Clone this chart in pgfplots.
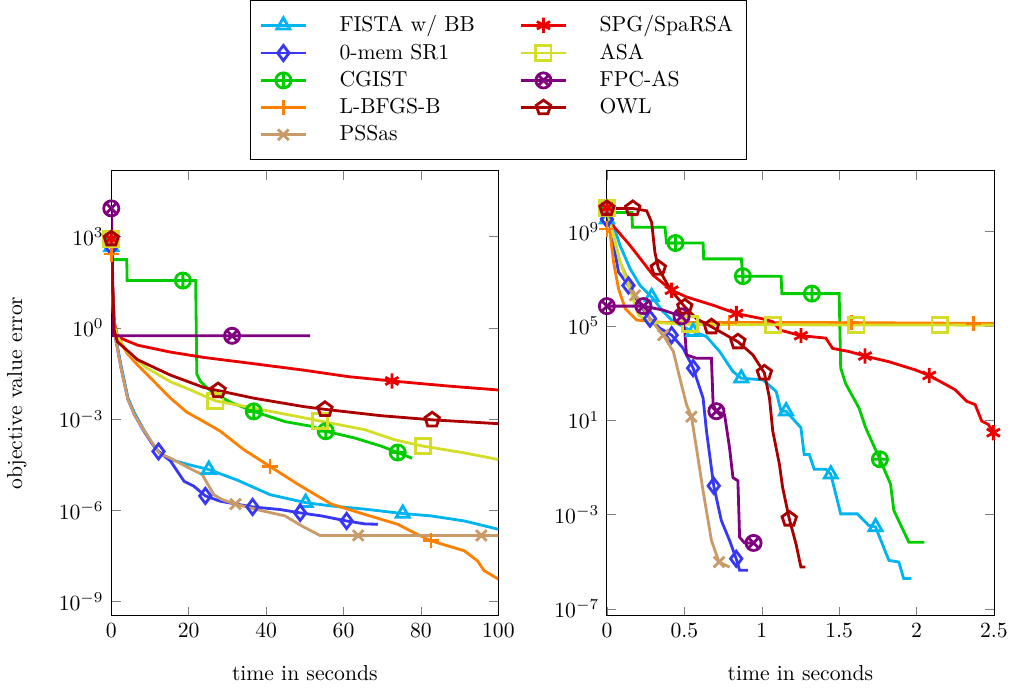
\documentclass[border=0pt]{standalone}
\usepackage{pgfplots}
\pgfplotsset{compat=1.18}

\definecolor{cfista}{RGB}{0,180,240}
\definecolor{csr}{RGB}{55,55,245}
\definecolor{ccg}{RGB}{0,204,0}
\definecolor{clb}{RGB}{255,128,0}
\definecolor{cpss}{RGB}{200,155,105}
\definecolor{cspg}{RGB}{235,0,0}
\definecolor{casa}{RGB}{212,222,40}
\definecolor{cfpc}{RGB}{128,0,128}
\definecolor{cowl}{RGB}{170,0,0}

\pgfplotsset{
  legend image code/.code={\draw[mark repeat=2,mark phase=2,#1] plot coordinates {(0cm,0cm) (0.37cm,0cm) (0.74cm,0cm)};},
  every axis plot/.append style={line width=1.3pt, mark size=3.5pt},
}

\begin{document}
\begin{tikzpicture}
\begin{axis}[name=left,
  scale only axis, width=179pt, height=206pt,
  ymode=log, yminorticks=false,
  xlabel={time in seconds}, xlabel style={at={(ticklabel cs:0.5,6pt)}},
  xmin=0, xmax=100, xtick={0,20,40,60,80,100},
  ymin=3.4e-10, ymax=1.5e5, ytick={1e-9,1e-6,1e-3,1,1e3},
  ylabel={objective value error}, ylabel style={at={(ticklabel cs:0.5,8pt)}},
  legend columns=2,
  legend cell align=left,
  legend style={at={(1,1)}, anchor=south, yshift=5pt, inner ysep=5pt, inner xsep=4pt,
    /tikz/every odd column/.append style={column sep=0.45cm},
    /tikz/every even column/.append style={column sep=0.65cm}},
]
% FISTA w/ BB
\addplot[color=cfista, mark=triangle, forget plot, mark indices={1,13,16,19}] coordinates {
(0,460) (0.3,20) (0.6,2) (1.2,0.45) (2.5,0.06) (4.3,5e-3) (6,1.6e-3) (8.2,5e-4)
(11,1.3e-4) (12.5,8e-5) (15.3,4.7e-5) (20,3.2e-5) (25.2,2.2e-5) (32.5,1.0e-5)
(41,3.3e-6) (50.2,1.8e-6) (56.9,1.4e-6) (65.5,1.1e-6) (75.3,7.9e-7) (82.6,6.6e-7)
(91.2,4.5e-7) (100,2.4e-7)};
% 0-mem SR1
\addplot[color=csr, mark=diamond, forget plot, mark indices={1,10,14,16,18,20}] coordinates {
(0,460) (0.3,20) (0.6,2) (1.2,0.4) (2.5,0.05) (4.3,4.5e-3) (6,1.4e-3) (8.2,4.5e-4)
(10.5,1.6e-4) (12.2,8.7e-5) (15.3,4.2e-5) (18.8,9.1e-6) (21.3,6.3e-6) (24.3,3.0e-6)
(28.2,2.0e-6) (36.5,1.3e-6) (43.6,1.07e-6) (48.8,8.3e-7) (54.3,6.6e-7) (60.8,4.5e-7)
(65.5,3.6e-7) (68.9,3.5e-7)};
% CGIST
\addplot[color=ccg, mark=oplus, forget plot, mark indices={1,5,12,15,18}] coordinates {
(0,850) (0.2,176) (4.0,176) (4.1,36) (18.5,36) (21.8,36) (22.1,0.03) (23.1,0.017)
(25,0.01) (27.3,6.3e-3) (31,3.5e-3) (36.8,1.8e-3) (44.9,8.3e-4) (51.8,5.8e-4)
(55.4,4.0e-4) (62.9,2.4e-4) (69.7,1.3e-4) (74,8e-5) (77.7,5.2e-5)};
% L-BFGS-B
\addplot[color=clb, mark=+, forget plot, mark indices={1,13,19}] coordinates {
(0,270) (0.3,10) (0.8,1) (1.6,0.58) (4,0.15) (6.8,0.06) (11.1,0.017) (15.3,4.9e-3)
(19.5,1.7e-3) (23.9,8.3e-4) (28.2,4.0e-4) (34.2,1.0e-4) (41,2.8e-5) (48.3,7.1e-6)
(56.9,1.6e-6) (65.5,7.4e-7) (74,3.5e-7) (79.2,1.6e-7) (82.6,1.0e-7) (91.2,4.7e-8)
(94.6,2.2e-8) (96.3,1.05e-8) (100,5.5e-9)};
% PSSas
\addplot[color=cpss, mark=x, forget plot, mark indices={1,16,21,22}] coordinates {
(0,850) (0.3,20) (0.6,2) (1.2,0.4) (2.5,0.05) (4.3,4.5e-3) (6,1.4e-3) (8.2,4.7e-4)
(11,1.4e-4) (12.5,7.5e-5) (15.3,5.2e-5) (20,2.5e-5) (23.5,1.5e-5) (26.5,3.3e-6)
(28.5,2.3e-6) (32.1,1.6e-6) (39.3,9.5e-7) (44.9,6.6e-7) (49.2,3.1e-7) (53.9,1.5e-7)
(63.8,1.5e-7) (95.6,1.5e-7) (100,1.5e-7)};
% SPG/SpaRSA
\addplot[color=cspg, mark=asterisk, forget plot, mark indices={1,11}] coordinates {
(0,850) (0.3,30) (0.8,1.5) (1.6,0.51) (6.8,0.27) (15.3,0.16) (23.9,0.107) (32.5,0.078)
(49.6,0.041) (61.2,0.025) (72.5,0.018) (86.9,0.0123) (100,0.0091)};
% ASA
\addplot[color=casa, mark=square, forget plot, mark indices={1,9,12,15}] coordinates {
(0,850) (0.3,20) (0.8,1.2) (1.6,0.5) (4,0.17) (9.3,0.047) (15.3,0.017) (19.6,0.0102)
(26.9,4.0e-3) (36.8,2.3e-3) (49.6,1.12e-3) (53.9,8.7e-4) (65.5,4.5e-4) (73.2,2.1e-4)
(80.5,1.3e-4) (91.2,7.8e-5) (100,4.7e-5)};
% FPC-AS
\addplot[color=cfpc, mark=otimes, forget plot, mark indices={1,4}] coordinates {
(0,8500) (0.2,900) (0.6,0.55) (31.2,0.55) (51.4,0.55)};
% OWL
\addplot[color=cowl, mark=pentagon, forget plot, mark indices={1,8,11,13}] coordinates {
(0,850) (0.3,30) (0.8,0.8) (1.6,0.35) (6.8,0.09) (15.3,0.028) (23.9,0.011) (27.6,8.7e-3)
(36.8,4.9e-3) (49.6,2.6e-3) (55.2,2.1e-3) (69.7,1.3e-3) (82.9,9.5e-4) (100,7.1e-4)};

\addlegendimage{color=cfista, mark=triangle}\addlegendentry{FISTA w/ BB}
\addlegendimage{color=cspg, mark=asterisk}\addlegendentry{SPG/SpaRSA}
\addlegendimage{color=csr, mark=diamond}\addlegendentry{0-mem SR1}
\addlegendimage{color=casa, mark=square}\addlegendentry{ASA}
\addlegendimage{color=ccg, mark=oplus}\addlegendentry{CGIST}
\addlegendimage{color=cfpc, mark=otimes}\addlegendentry{FPC-AS}
\addlegendimage{color=clb, mark=+}\addlegendentry{L-BFGS-B}
\addlegendimage{color=cowl, mark=pentagon}\addlegendentry{OWL}
\addlegendimage{color=cpss, mark=x}\addlegendentry{PSSas}
\end{axis}

\begin{axis}[at={(left.south east)}, anchor=south west, xshift=50.2pt,
  scale only axis, width=179pt, height=206pt,
  ymode=log, yminorticks=false,
  xlabel={time in seconds}, xlabel style={at={(ticklabel cs:0.5,6pt)}},
  xmin=0, xmax=2.5, xtick={0,0.5,1,1.5,2,2.5},
  ymin=5.1e-8, ymax=3.8e11, ytick={1e-7,1e-3,1e1,1e5,1e9},
]
% FISTA w/ BB
\addplot[color=cfista, mark=triangle, mark indices={1,6,9,13,17,23,27}] coordinates {
(0,3.3e9) (0.032,2.8e9) (0.085,2.5e8) (0.15,2.6e7) (0.214,5.1e6) (0.289,1.66e6)
(0.364,3.9e5) (0.429,1.5e5) (0.557,5.6e4) (0.643,3.5e4) (0.728,8.1e3) (0.814,1.15e3)
(0.868,600) (1.007,510) (1.093,166) (1.125,24) (1.157,24) (1.253,4.8) (1.274,0.35)
(1.307,0.35) (1.339,0.083) (1.414,0.083) (1.446,0.051) (1.51,1.07e-3) (1.618,1.07e-3)
(1.69,3.5e-4) (1.735,3.0e-4) (1.821,1.15e-5) (1.885,9.8e-6) (1.917,1.95e-6) (1.967,1.95e-6)};
% 0-mem SR1
\addplot[color=csr, mark=diamond, mark indices={1,5,7,9,11,14,17}] coordinates {
(0,3.3e9) (0.021,1.7e9) (0.075,1.9e7) (0.107,9.8e6) (0.139,5.1e6) (0.214,7.4e5)
(0.278,2.0e5) (0.343,7.8e4) (0.418,4.0e4) (0.493,1.1e4) (0.557,1.6e3) (0.621,87)
(0.643,3.5) (0.69,0.0166) (0.739,5.6e-4) (0.792,8.1e-5) (0.835,1.35e-5) (0.857,4.4e-6)
(0.911,4.4e-6)};
% CGIST
\addplot[color=ccg, mark=oplus, mark indices={1,7,11,14,20}] coordinates {
(0,1e10) (0.01,6.3e9) (0.161,6.3e9) (0.165,1.5e9) (0.375,1.5e9) (0.385,3.2e8)
(0.443,3.2e8) (0.621,3.2e8) (0.625,6.8e7) (0.868,6.8e7) (0.878,1.26e7) (1.125,1.26e7)
(1.13,2.3e6) (1.324,2.3e6) (1.5,2.3e6) (1.51,1.6e3) (1.542,350) (1.628,33) (1.671,4.8)
(1.763,0.22) (1.832,0.0195) (1.853,1.5e-3) (1.95,6.8e-5) (2.05,6.8e-5)};
% L-BFGS-B
\addplot[color=clb, mark=+, mark indices={1,8,9,10}] coordinates {
(0,1.26e9) (0.02,9e8) (0.043,4.9e7) (0.075,3.7e6) (0.118,5.4e5) (0.193,1.74e5)
(0.364,1.38e5) (0.789,1.38e5) (1.581,1.35e5) (2.367,1.27e5) (2.5,1.26e5)};
% PSSas
\addplot[color=cpss, mark=x, mark indices={1,4,6,10,14}] coordinates {
(0,1e10) (0.032,1.26e9) (0.085,4.9e7) (0.182,1.95e6) (0.278,2.0e5) (0.364,4.0e4)
(0.429,8.1e3) (0.471,600) (0.514,46) (0.546,14) (0.578,0.68) (0.621,0.0102)
(0.675,8.1e-5) (0.724,9.8e-6) (0.792,6.0e-6)};
% SPG/SpaRSA
\addplot[color=cspg, mark=asterisk, mark indices={1,5,8,12,16,19,25}] coordinates {
(0,1e10) (0.021,2.4e9) (0.15,2.5e8) (0.30,1.35e7) (0.418,3.2e6) (0.514,1.66e6)
(0.686,7.4e5) (0.836,3.3e5) (1.0,2.0e5) (1.07,1.5e5) (1.12,6.5e4) (1.253,3.8e4)
(1.414,3.0e4) (1.457,1.1e4) (1.564,8.1e3) (1.667,5.2e3) (1.821,3.0e3) (1.992,1.35e3)
(2.082,780) (2.249,195) (2.324,63) (2.378,46) (2.421,9.1) (2.463,6.6) (2.496,2.95)};
% ASA
\addplot[color=casa, mark=square, mark indices={1,7,8,9,10}] coordinates {
(0,1e10) (0.03,1.3e9) (0.085,5e7) (0.161,2e6) (0.204,2.8e5) (0.278,1.4e5)
(0.535,1.15e5) (1.071,1.1e5) (1.611,1.08e5) (2.149,1.07e5) (2.5,1.06e5)};
% FPC-AS
\addplot[color=cfpc, mark=otimes, mark indices={1,2,4,10,17}] coordinates {
(0,6.8e5) (0.236,6.8e5) (0.364,4.6e5) (0.482,2.5e5) (0.503,5.6e4) (0.514,5.8e3)
(0.578,4.2e3) (0.675,4.2e3) (0.686,46) (0.707,24) (0.76,17) (0.792,0.68) (0.814,0.037)
(0.846,0.027) (0.857,1.1e-4) (0.889,6.3e-5) (0.947,6.3e-5)};
% OWL
\addplot[color=cowl, mark=pentagon, mark indices={1,2,6,8,10,11,13,18}] coordinates {
(0,9.3e9) (0.167,9.3e9) (0.257,7.4e9) (0.289,2.4e9) (0.31,1.3e8) (0.332,2.75e7)
(0.407,3.7e6) (0.503,6.3e5) (0.578,2.0e5) (0.675,9.1e4) (0.846,2.1e4) (0.943,5.8e3)
(1.017,1e3) (1.05,87) (1.071,3.5) (1.114,0.135) (1.135,0.014) (1.178,6.5e-4)
(1.221,5.8e-5) (1.253,6.0e-6) (1.281,6.0e-6)};
\end{axis}
\end{tikzpicture}
\end{document}
